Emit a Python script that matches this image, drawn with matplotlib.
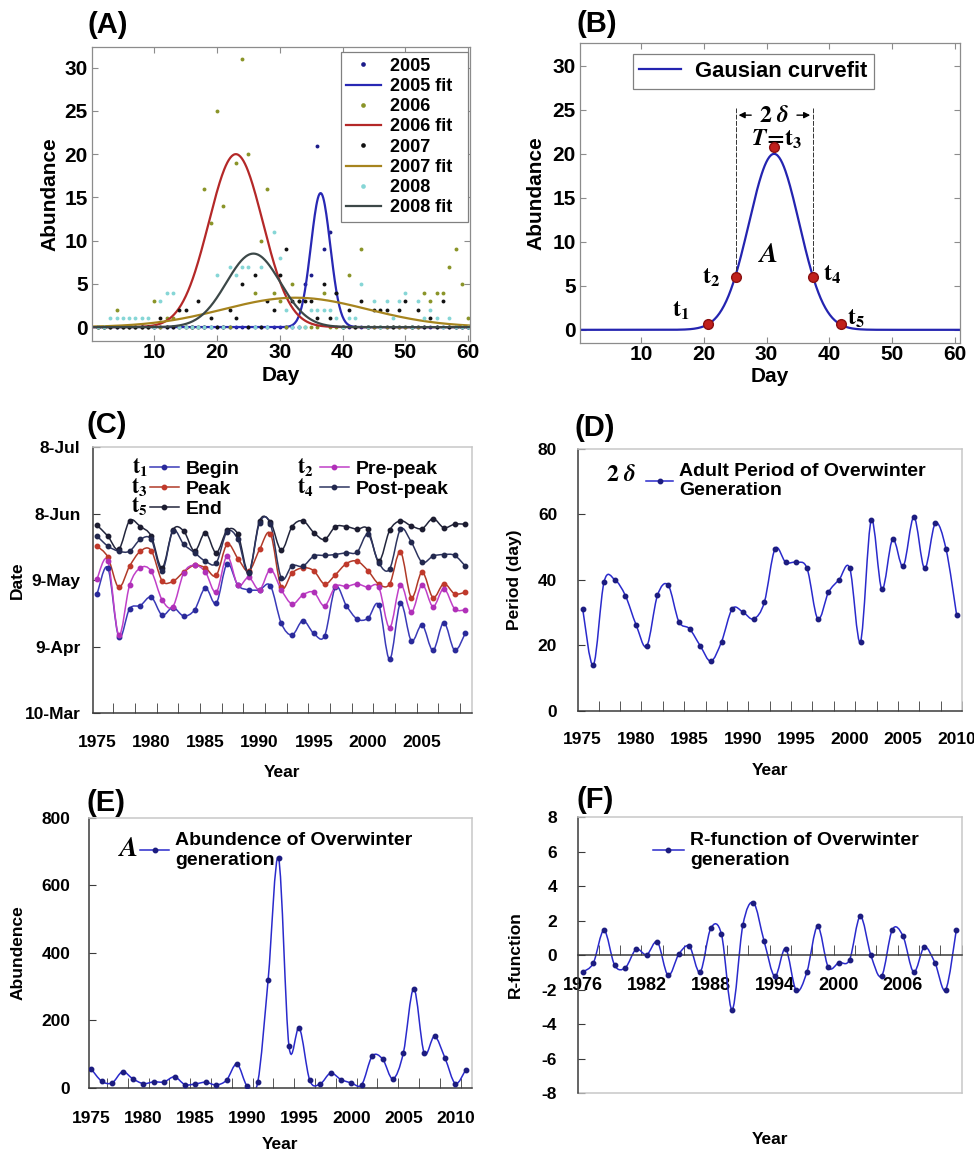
import numpy as np
import matplotlib
matplotlib.use("Agg")
import matplotlib.pyplot as plt
from matplotlib.path import Path
from matplotlib.patches import PathPatch
from matplotlib.lines import Line2D

plt.rcParams['font.family'] = ['Liberation Sans', 'DejaVu Sans']
plt.rcParams['font.weight'] = 'bold'
plt.rcParams['axes.labelweight'] = 'bold'
plt.rcParams['mathtext.fontset'] = 'stix'
plt.rcParams['axes.unicode_minus'] = False

# ---------------- data ----------------
# (A) daily counts, days 1..60
days = np.arange(1, 61)
ab_2005 = [0, 0, 0, 0, 0, 0, 0, 0, 0, 0,
           0, 0, 0, 0, 0, 0, 0, 0, 0, 0,
           0, 0, 0, 0, 0, 0, 0, 0, 0, 0,
           0, 0, 0, 5, 6, 21, 9, 11, 4, 0,
           0, 0, 0, 0, 0, 0, 0, 0, 0, 0,
           0, 0, 0, 0, 0, 0, 0, 0, 0, 0]
ab_2006 = [0, 0, 0, 2, 0, 0, 0, 0, 0, 3,
           0, 1, 1, 0, 0, 0, 0, 16, 12, 25,
           14, 0, 19, 31, 20, 4, 10, 16, 4, 3,
           0, 5, 3, 0, 0, 0, 4, 0, 0, 0,
           6, 0, 9, 0, 0, 0, 0, 0, 0, 0,
           0, 0, 4, 3, 4, 4, 7, 9, 5, 1]
ab_2007 = [0, 0, 0, 0, 0, 0, 0, 0, 0, 0,
           1, 0, 0, 2, 2, 0, 3, 0, 1, 0,
           0, 2, 1, 5, 0, 6, 0, 3, 2, 6,
           9, 3, 3, 3, 3, 1, 5, 1, 4, 0,
           2, 0, 3, 0, 2, 2, 2, 0, 2, 3,
           0, 2, 0, 1, 0, 3, 0, 0, 0, 0]
ab_2008 = [0, 0, 1, 1, 1, 1, 1, 1, 1, 0,
           3, 4, 4, 0, 0, 0, 0, 0, 0, 6,
           0, 7, 6, 7, 7, 0, 7, 0, 11, 8,
           2, 0, 0, 0, 2, 2, 2, 2, 1, 0,
           1, 1, 5, 0, 3, 0, 3, 1, 3, 4,
           0, 3, 1, 2, 1, 0, 1, 0, 0, 0]
fit_peak = [15.5, 20.0, 3.4, 8.5]
fit_center = [36.5, 23.0, 32.5, 25.8]
fit_sigma = [1.55, 4.3, 11.5, 4.3]
years_a = ['2005', '2006', '2007', '2008']

# (B) example gaussian and its characteristic points
b_peak, b_center, b_sigma = 20.0, 31.2, 4.0
t_days = [20.6, 25.1, 31.2, 37.4, 41.8]
t_vals = [0.65, 6.0, 20.8, 6.0, 0.65]

# (C) dates as day of year
years_c = np.arange(1975, 2010)
t1_begin = [122.6, 134.5, 103.4, 116.0, 117.5, 121.3, 113.2, 116.6, 112.8, 115.5,
            125.4, 118.5, 136.3, 126.6, 124.6, 124.6, 126.4, 109.5, 104.2, 110.7,
            104.9, 103.8, 125.7, 117.5, 111.4, 111.7, 117.8, 93.2, 118.5, 101.6,
            108.7, 97.3, 109.8, 97.3, 105.2]
t2_prepeak = [129.6, 137.8, 104.2, 126.6, 134.5, 133.0, 120.1, 117.0, 132.2, 135.7,
              132.6, 123.5, 139.8, 126.6, 130.2, 124.6, 133.7, 124.6, 118.2, 122.3,
              123.5, 117.3, 126.1, 126.1, 127.2, 125.7, 125.7, 107.5, 126.9, 114.5,
              126.9, 117.0, 125.1, 116.0, 115.5]
t3_peak = [144.3, 139.3, 125.7, 135.2, 142.0, 142.3, 128.7, 128.4, 132.6, 135.7,
           134.5, 131.1, 145.1, 138.7, 133.0, 142.8, 149.9, 125.7, 132.2, 134.5,
           133.2, 127.2, 131.4, 136.4, 137.5, 133.2, 127.2, 127.2, 141.7, 121.1,
           132.6, 121.1, 127.3, 122.8, 123.5]
t4_postpeak = [148.8, 144.3, 142.0, 142.0, 147.3, 147.3, 133.0, 151.1, 145.1, 141.3,
               137.5, 136.7, 150.8, 147.3, 132.0, 154.9, 154.2, 129.9, 135.5, 135.2,
               139.8, 140.1, 140.5, 141.3, 141.6, 149.6, 136.7, 134.0, 151.9, 146.1,
               137.0, 139.8, 140.5, 140.1, 135.2]
t5_end = [153.7, 148.8, 142.8, 155.7, 153.1, 148.8, 134.5, 151.6, 151.1, 142.0,
          150.4, 141.3, 151.4, 149.6, 132.5, 155.7, 155.2, 142.5, 153.1, 155.7,
          150.4, 147.3, 153.1, 153.1, 151.9, 151.9, 137.5, 151.4, 155.7, 153.4,
          152.2, 156.7, 152.6, 154.2, 154.2]
date_ticks = [69, 99, 129, 159, 189]
date_labels = ['10-Mar', '9-Apr', '9-May', '8-Jun', '8-Jul']

# (D) adult period
years_d = np.arange(1975, 2011)
period = [31.2, 14.0, 39.4, 40.1, 35.2, 26.3, 19.8, 35.3, 38.4, 27.3,
          25.1, 19.9, 15.2, 21.2, 31.2, 30.2, 28.1, 33.2, 49.5, 45.4,
          45.4, 43.5, 28.1, 36.2, 40.1, 43.5, 21.2, 58.2, 37.2, 52.4,
          44.2, 59.2, 43.5, 57.3, 49.5, 29.2]

# (E) abundance
years_e = np.arange(1975, 2012)
abundence = [56, 20, 15, 48, 27, 13, 18, 18, 33, 10, 12, 17, 9, 23, 71, 5, 17,
             321, 681, 125, 178, 23, 12, 44, 25, 15, 10, 94, 86, 27, 104, 294,
             104, 153, 89, 13, 54]

# (F) R-function
years_f = np.arange(1976, 2012)
r_func = [-0.99, -0.46, 1.43, -0.6, -0.73, 0.33, 0.02, 0.75, -1.18, 0.04,
          0.5, -0.99, 1.55, 1.2, -3.17, 1.72, 3.03, 0.79, -1.24, 0.37,
          -2.05, -0.99, 1.66, -0.7, -0.44, -0.27, 2.24, -0.02, -1.22, 1.47,
          1.1, -0.99, 0.46, -0.46, -2.01, 1.47]


def gauss(x, a, mu, s):
    return a * np.exp(-(x - mu) ** 2 / (2 * s ** 2))


def smooth_line(ax, x, y, color, mcolor, lw=1.1, ms=3.5):
    # excel-like smoothed line through the points (bezier segments)
    x = np.asarray(x, float)
    y = np.asarray(y, float)
    n = len(x)
    verts = [(x[0], y[0])]
    codes = [Path.MOVETO]
    for i in range(n - 1):
        xa, ya = (x[i - 1], y[i - 1]) if i > 0 else (x[i], y[i])
        xb, yb = (x[i + 2], y[i + 2]) if i + 2 < n else (x[i + 1], y[i + 1])
        verts += [(x[i] + (x[i + 1] - xa) / 6, y[i] + (y[i + 1] - ya) / 6),
                  (x[i + 1] - (xb - x[i]) / 6, y[i + 1] - (yb - y[i]) / 6),
                  (x[i + 1], y[i + 1])]
        codes += [Path.CURVE4] * 3
    ax.add_patch(PathPatch(Path(verts, codes), fc='none', ec=color, lw=lw, zorder=2))
    ax.plot(x, y, 'o', ms=ms, color=mcolor, mec=mcolor, zorder=3)
    return Line2D([], [], color=color, lw=lw, marker='o', ms=ms, mfc=mcolor, mec=mcolor)


def matlab_style(ax):
    for s in ax.spines.values():
        s.set_color('#8c8c8c')
        s.set_linewidth(0.9)
    ax.tick_params(direction='in', top=True, right=True, length=4,
                   color='#8c8c8c', labelsize=15)
    ax.tick_params(axis='x', pad=1.5)
    ax.tick_params(axis='y', pad=3)


def excel_style(ax, minor, ypad, xpad):
    ax.spines['top'].set_color('#c8c8c8')
    ax.spines['right'].set_color('#c8c8c8')
    ax.spines['left'].set_color('#3a3a3a')
    ax.spines['bottom'].set_color('#3a3a3a')
    for s in ax.spines.values():
        s.set_linewidth(1.1)
    ax.tick_params(axis='y', direction='in', length=5, labelsize=12.5,
                   color='#3a3a3a', pad=ypad)
    ax.tick_params(axis='x', which='major', length=0, labelsize=12.5, pad=xpad)
    ax.set_xticks(minor, minor=True)
    ax.tick_params(axis='x', which='minor', direction='in', length=7, color='#3a3a3a')


fig = plt.figure(figsize=(9.74, 11.53), dpi=100)

# ---------------- (A) ----------------
axA = fig.add_axes([0.0945, 0.7043, 0.3881, 0.2550])
xs = np.linspace(0, 61, 500)
pt_cols = ['#1c1c8a', '#8a9428', '#111111', '#86d6d6']
fit_cols = ['#2828b4', '#b42828', '#a6841e', '#3c4848']
for i, vals in enumerate([ab_2005, ab_2006, ab_2007, ab_2008]):
    axA.plot(days, vals, 'o', ms=2.8, color=pt_cols[i], mec='none',
             label=years_a[i] + '  ')
    axA.plot(xs, gauss(xs, fit_peak[i], fit_center[i], fit_sigma[i]), '-',
             lw=1.6, color=fit_cols[i], label=years_a[i] + ' fit  ')
axA.set_xlim(0.1, 60.3)
axA.set_ylim(-1.6, 32.4)
axA.set_xticks([10, 20, 30, 40, 50, 60])
axA.set_yticks([0, 5, 10, 15, 20, 25, 30])
matlab_style(axA)
axA.set_xlabel('Day', fontsize=15)
axA.set_ylabel('Abundance', fontsize=15)
axA.xaxis.set_label_coords(0.5, -0.085)
axA.yaxis.set_label_coords(-0.085, 0.5)
legA = axA.legend(loc='upper right', bbox_to_anchor=(0.995, 0.982), fontsize=13,
                  handlelength=1.9, labelspacing=0.18, borderpad=0.3,
                  handletextpad=0.55, borderaxespad=0, fancybox=False,
                  edgecolor='#808080', framealpha=1, markerscale=1.2)
legA.get_frame().set_linewidth(0.9)

# ---------------- (B) ----------------
axB = fig.add_axes([0.5955, 0.7025, 0.3901, 0.2602])
axB.plot(xs, gauss(xs, b_peak, b_center, b_sigma), '-', lw=1.6, color='#2424b0',
         label='Gausian curvefit')
axB.plot(t_days, t_vals, 'o', ms=7, color='#c0201c', mec='#8a1010', zorder=4)
top_y = 25.2
for k in (1, 3):
    axB.plot([t_days[k], t_days[k]], [t_vals[k], top_y], color='#333333', lw=0.7,
             ls=(0, (5, 1.5)))
arrow_y = 24.4
axB.annotate('', xy=(t_days[1], arrow_y), xytext=(t_days[2] - 3.2, arrow_y),
             arrowprops=dict(arrowstyle='-|>', color='black', lw=1, mutation_scale=9))
axB.annotate('', xy=(t_days[3], arrow_y), xytext=(t_days[2] + 3.2, arrow_y),
             arrowprops=dict(arrowstyle='-|>', color='black', lw=1, mutation_scale=9))
axB.text(t_days[2], arrow_y, r'$\mathbf{2}\ \delta$', fontsize=17, ha='center', va='center')
axB.text(t_days[2] + 0.4, 21.6, r'$T\!=\!\mathbf{t}_{\mathbf{3}}$', fontsize=17,
         ha='center', va='center')
axB.text(30.2, 8.5, r'$A$', fontsize=20, ha='center', va='center')
t_lab_x = [16.4, 21.2, None, 40.5, 44.3]
t_lab_y = [2.2, 6.0, None, 6.3, 1.3]
for k in (0, 1, 3, 4):
    axB.text(t_lab_x[k], t_lab_y[k], r'$\mathbf{t}_{\mathbf{%d}}$' % (k + 1), fontsize=17,
             ha='center', va='center')
axB.set_xlim(0.3, 60.8)
axB.set_ylim(-1.5, 32.6)
axB.set_xticks([10, 20, 30, 40, 50, 60])
axB.set_yticks([0, 5, 10, 15, 20, 25, 30])
matlab_style(axB)
axB.set_xlabel('Day', fontsize=15)
axB.set_ylabel('Abundance', fontsize=15)
axB.xaxis.set_label_coords(0.5, -0.08)
axB.yaxis.set_label_coords(-0.092, 0.5)
legB = axB.legend(loc='upper left', bbox_to_anchor=(0.139, 0.962), fontsize=15.8,
                  handlelength=1.9, borderpad=0.3, handletextpad=0.65,
                  borderaxespad=0, fancybox=False, edgecolor='#808080', framealpha=1)
legB.get_frame().set_linewidth(0.9)

# ---------------- (C) ----------------
axC = fig.add_axes([0.0955, 0.3816, 0.3891, 0.2307])
hC = []
c_series = [t1_begin, t3_peak, t5_end, t2_prepeak, t4_postpeak]
c_names = ['Begin', 'Peak', 'End', 'Pre-peak', 'Post-peak']
c_lines = ['#3a3ab8', '#b03a28', '#23263c', '#c040c8', '#2e3560']
c_marks = ['#2a2a9a', '#c0392b', '#1c1c30', '#b030b8', '#22284e']
for vals, lc, mc in zip(c_series, c_lines, c_marks):
    hC.append(smooth_line(axC, years_c, vals, lc, mc, lw=1.1, ms=3.2))
axC.set_xlim(1974.63, 2009.6)
axC.set_ylim(69, 189)
axC.set_yticks(date_ticks)
axC.set_yticklabels(date_labels)
axC.set_xticks([1975, 1980, 1985, 1990, 1995, 2000, 2005])
excel_style(axC, np.arange(1976.5, 2009.6, 2), ypad=9, xpad=16)
axC.set_xlabel('Year', fontsize=12.5)
axC.set_ylabel('Date', fontsize=12.5)
axC.xaxis.set_label_coords(0.5, -0.195)
axC.yaxis.set_label_coords(-0.18, 0.5)
axC.legend(hC, c_names, ncol=2, loc='upper left', bbox_to_anchor=(0.150, 0.950),
           frameon=False, fontsize=14, handlelength=1.5, handletextpad=0.35,
           labelspacing=0.12, columnspacing=4.1, borderpad=0, borderaxespad=0)
t_col_x = [0.145, 0.145, 0.145, 0.581, 0.581]
t_row_y = [0.904, 0.829, 0.754, 0.904, 0.829]
for k, lab in enumerate(['1', '3', '5', '2', '4']):
    axC.text(t_col_x[k], t_row_y[k], r'$\mathbf{t}_{\mathbf{%s}}$' % lab, fontsize=15.5,
             ha='right', va='baseline', transform=axC.transAxes)

# ---------------- (D) ----------------
axD = fig.add_axes([0.5934, 0.3834, 0.3943, 0.2272])
hD = smooth_line(axD, years_d, period, '#2a2acc', '#1c1c80', lw=1.1, ms=3.2)
axD.set_xlim(1974.56, 2010.5)
axD.set_ylim(0, 80)
axD.set_yticks([0, 20, 40, 60, 80])
axD.set_xticks([1975, 1980, 1985, 1990, 1995, 2000, 2005, 2010])
excel_style(axD, np.arange(1976.5, 2010.6, 2), ypad=15, xpad=15)
axD.set_xlabel('Year', fontsize=12.5)
axD.set_ylabel('Period (day)', fontsize=12.5)
axD.xaxis.set_label_coords(0.5, -0.198)
axD.yaxis.set_label_coords(-0.146, 0.5)
axD.legend([hD], ['Adult Period of Overwinter\nGeneration'], loc='upper left',
           bbox_to_anchor=(0.177, 0.948), frameon=False, fontsize=14,
           handlelength=1.4, handletextpad=0.3, borderpad=0, borderaxespad=0)
axD.text(0.154, 0.878, r'$\mathbf{2}\ \delta$', fontsize=17, ha='right', va='baseline',
         transform=axD.transAxes)

# ---------------- (E) ----------------
axE = fig.add_axes([0.0914, 0.0564, 0.3932, 0.2342])
hE = smooth_line(axE, years_e, abundence, '#2a2acc', '#1c1c80', lw=1.1, ms=3.2)
axE.set_xlim(1974.78, 2011.6)
axE.set_ylim(0, 800)
axE.set_yticks([0, 200, 400, 600, 800])
axE.set_xticks([1975, 1980, 1985, 1990, 1995, 2000, 2005, 2010])
excel_style(axE, np.arange(1976.5, 2011.6, 2), ypad=13.5, xpad=16.5)
axE.set_xlabel('Year', fontsize=12.5)
axE.set_ylabel('Abundence', fontsize=12.5)
axE.xaxis.set_label_coords(0.5, -0.181)
axE.yaxis.set_label_coords(-0.165, 0.5)
axE.legend([hE], ['Abundence of Overwinter\ngeneration'], loc='upper left',
           bbox_to_anchor=(0.133, 0.948), frameon=False, fontsize=14,
           handlelength=1.5, handletextpad=0.3, borderpad=0, borderaxespad=0)
axE.text(0.128, 0.859, r'$A$', fontsize=20, ha='right', va='baseline',
         transform=axE.transAxes)

# ---------------- (F) ----------------
axF = fig.add_axes([0.5934, 0.0520, 0.3943, 0.2394])
hF = smooth_line(axF, years_f, r_func, '#2a2acc', '#1c1c80', lw=1.1, ms=3.2)
axF.set_xlim(1975.56, 2011.53)
axF.set_ylim(-8, 8)
axF.set_yticks([-8, -6, -4, -2, 0, 2, 4, 6, 8])
axF.set_xticks([1976, 1982, 1988, 1994, 2000, 2006])
excel_style(axF, np.arange(1977.5, 2011.6, 2), ypad=15, xpad=16)
axF.spines['bottom'].set_position(('data', 0))
axF.tick_params(axis='x', which='major', labelsize=13)
axF.axhline(-8, color='#c8c8c8', lw=1.1, clip_on=False)
axF.set_xlabel('Year', fontsize=12.5)
axF.set_ylabel('R-function', fontsize=12.5)
axF.xaxis.set_label_coords(0.5, -0.141)
axF.yaxis.set_label_coords(-0.143, 0.5)
axF.legend([hF], ['R-function of Overwinter\ngeneration'], loc='upper left',
           bbox_to_anchor=(0.195, 0.946), frameon=False, fontsize=14,
           handlelength=1.6, handletextpad=0.3, borderpad=0, borderaxespad=0)

# panel letters
for lab, x, y in [('(A)', 0.0903, 0.9714), ('(B)', 0.5924, 0.9722),
                  ('(C)', 0.0893, 0.6245), ('(D)', 0.5903, 0.6219),
                  ('(E)', 0.0893, 0.2966), ('(F)', 0.5924, 0.2992)]:
    fig.text(x, y, lab, fontsize=21, fontweight='bold', ha='left', va='baseline')

fig.savefig('out.png', dpi=100)
